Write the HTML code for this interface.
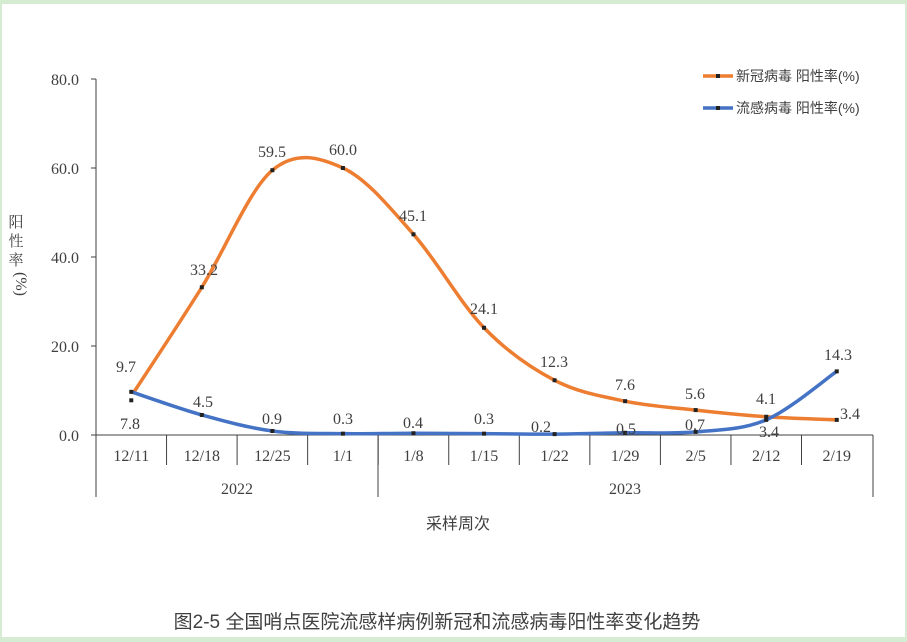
<!DOCTYPE html>
<html><head><meta charset="utf-8"><style>
body{margin:0;background:#fff}
svg{display:block}
text{font-family:"Liberation Serif","Noto Serif CJK SC",serif;fill:#404040}
.cn{font-family:"Liberation Sans","Noto Sans CJK SC",sans-serif}
</style></head><body>
<svg id="s" width="907" height="642" viewBox="0 0 907 642" xmlns="http://www.w3.org/2000/svg">
<rect x="0" y="0" width="907" height="642" fill="#d5ecd2"/>
<rect x="2" y="4" width="903" height="633" fill="#fff"/>
<g stroke="#404040" stroke-width="1" fill="none">
<line x1="96" y1="79" x2="96" y2="497"/>
<line x1="91" y1="79" x2="96" y2="79"/><line x1="91" y1="168" x2="96" y2="168"/><line x1="91" y1="257" x2="96" y2="257"/><line x1="91" y1="346" x2="96" y2="346"/>
<line x1="91" y1="435" x2="873" y2="435"/>
<g id="ticks"></g>
<line x1="378" y1="435" x2="378" y2="497"/><line x1="873" y1="435" x2="873" y2="497"/>
</g>
<g font-size="16" text-anchor="end">
<text x="79" y="85">80.0</text><text x="79" y="174">60.0</text><text x="79" y="263">40.0</text><text x="79" y="352">20.0</text><text x="79" y="441">0.0</text>
</g>
<g class="cn" font-size="15" text-anchor="middle" fill="#595959">
<text x="16" y="227">阳</text><text x="16" y="246">性</text><text x="16" y="265">率</text>
<text x="16" y="284" transform="rotate(90 16 284)" font-family="Liberation Serif" font-size="16">(%)</text>
</g>
<g id="cats" font-size="16" text-anchor="middle"></g>
<text x="237" y="494" font-size="16" text-anchor="middle">2022</text>
<text x="625" y="494" font-size="16" text-anchor="middle">2023</text>
<text class="cn" x="458" y="529" font-size="16" text-anchor="middle">采样周次</text>
<path id="cov" fill="none" stroke="#ed7d31" stroke-width="3.5"/>
<path id="flu" fill="none" stroke="#4472c4" stroke-width="3.5"/>
<g id="pts"></g>
<g id="lbl" font-size="16" text-anchor="middle" fill="#404040"></g>
<line x1="703" y1="76" x2="733" y2="76" stroke="#ed7d31" stroke-width="3.5"/>
<line x1="703" y1="108" x2="733" y2="108" stroke="#4472c4" stroke-width="3.5"/>
<rect x="716" y="74" width="4" height="4" fill="#222"/><rect x="716" y="106" width="4" height="4" fill="#222"/>
<text class="cn" x="736" y="81" font-size="14">新冠病毒 阳性率(%)</text>
<text class="cn" x="736" y="113" font-size="14">流感病毒 阳性率(%)</text>
<text class="cn" x="437" y="628" font-size="19" text-anchor="middle" fill="#333">图2-5 全国哨点医院流感样病例新冠和流感病毒阳性率变化趋势</text>
</svg>
<script>
var NS="http://www.w3.org/2000/svg";
var cats=["12/11","12/18","12/25","1/1","1/8","1/15","1/22","1/29","2/5","2/12","2/19"];
var cov=[7.8,33.2,59.5,60.0,45.1,24.1,12.3,7.6,5.6,4.1,3.4];
var flu=[9.7,4.5,0.9,0.3,0.4,0.3,0.2,0.5,0.7,3.4,14.3];
function X(i){return 96+70.55*(i+0.5)}
function Y(v){return 435-4.45*v}
var t=document.getElementById("ticks"),c=document.getElementById("cats");
for(var i=1;i<11;i++){var l=document.createElementNS(NS,"line");var x=96+70.55*i;l.setAttribute("x1",x);l.setAttribute("x2",x);l.setAttribute("y1",435);l.setAttribute("y2",465);t.appendChild(l);}
cats.forEach(function(s,i){var e=document.createElementNS(NS,"text");e.setAttribute("x",X(i));e.setAttribute("y",461);e.textContent=s;c.appendChild(e);});
function path(d,first){var p=d.map(function(v,i){return [X(i),Y(v)]});if(first)p[0]=first;
var s="M"+p[0][0]+","+p[0][1];
for(var i=0;i<p.length-1;i++){var p0=p[i-1]||p[i],p1=p[i],p2=p[i+1],p3=p[i+2]||p[i+1];
var k=1/6;s+=" C"+(p1[0]+(p2[0]-p0[0])*k)+","+(p1[1]+(p2[1]-p0[1])*k)+" "+(p2[0]-(p3[0]-p1[0])*k)+","+(p2[1]-(p3[1]-p1[1])*k)+" "+p2[0]+","+p2[1];}
return s;}
document.getElementById("cov").setAttribute("d",path(cov,[134,392]));
document.getElementById("flu").setAttribute("d",path(flu));
var pts=document.getElementById("pts");
[cov,flu].forEach(function(d){d.forEach(function(v,i){var r=document.createElementNS(NS,"rect");r.setAttribute("x",X(i)-2);r.setAttribute("y",Y(v)-2);r.setAttribute("width",4);r.setAttribute("height",4);r.setAttribute("fill","#222");pts.appendChild(r);});});
var L=[["9.7",126,372],["7.8",130,429],["33.2",204,275],["59.5",272,157],["60.0",343,155],["45.1",413,221],["24.1",484,314],["12.3",554,367],["7.6",625,390],["5.6",695,399],["4.1",766,404],["3.4",850,419],
["4.5",203,407],["0.9",272,424],["0.3",343,424],["0.4",413,428],["0.3",484,424],["0.2",541,432],["0.5",626,434],["0.7",695,430],["3.4",769,437],["14.3",838,360]];
var g=document.getElementById("lbl");L.forEach(function(a){var e=document.createElementNS(NS,"text");e.setAttribute("x",a[1]);e.setAttribute("y",a[2]);e.textContent=a[0];g.appendChild(e);});
</script>
</body></html>
